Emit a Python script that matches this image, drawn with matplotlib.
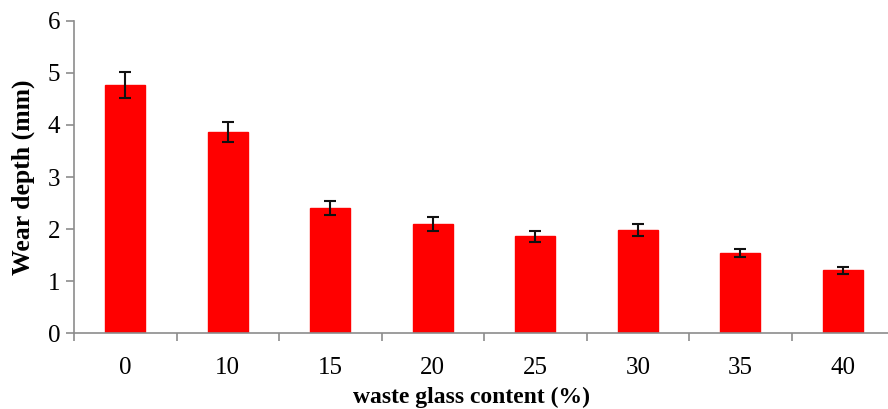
import matplotlib
matplotlib.use("Agg")
import matplotlib.pyplot as plt
import numpy as np

categories = ["0", "10", "15", "20", "25", "30", "35", "40"]
wear_depth = [4.76, 3.87, 2.41, 2.10, 1.86, 1.98, 1.54, 1.21]
errors = [0.25, 0.19, 0.13, 0.13, 0.10, 0.11, 0.08, 0.07]

plt.rcParams['font.family'] = ['Liberation Serif', 'DejaVu Serif']

fig = plt.figure(figsize=(8.88, 4.09), dpi=100)
W, H = 888, 409
left_px, right_px = 74, 894
top_px, bot_px = 20.7, 333.3
ax = fig.add_axes([left_px / W, (H - bot_px) / H, (right_px - left_px) / W, (bot_px - top_px) / H])

x = np.arange(len(categories))
ax.bar(x, wear_depth, width=0.39, color='#ff0000', edgecolor='#ff0000', zorder=2)
ax.errorbar(x, wear_depth, yerr=errors, fmt='none', ecolor='#111111',
            elinewidth=1.5, capsize=4, capthick=1.5, zorder=3)

ax.set_xlim(-0.5, len(categories) - 0.5)
ax.set_ylim(0, 6)
ax.set_yticks(range(0, 7))
ax.set_xticks(x)
ax.set_xticklabels(categories)
ax.set_xticks(np.arange(-0.5, len(categories), 1.0), minor=True)

gray = '#8c8c8c'
for s in ['top', 'right']:
    ax.spines[s].set_visible(False)
for s in ['left', 'bottom']:
    ax.spines[s].set_color(gray)
    ax.spines[s].set_linewidth(1.2)

ax.tick_params(axis='y', direction='out', length=6, width=1.2, color=gray,
               labelsize=18, pad=4)
ax.tick_params(axis='x', which='major', length=0, labelsize=18, pad=17)
ax.tick_params(axis='x', which='minor', direction='out', length=6, width=1.2, color=gray)

ax.set_ylabel("Wear depth (mm)", fontsize=18.5, fontweight='bold', labelpad=9)
ax.set_xlabel("waste glass content (%)", fontsize=17, fontweight='bold', labelpad=2)
ax.xaxis.set_label_coords((471 - left_px) / (right_px - left_px), -0.172)

fig.savefig("out.png", dpi=100)
